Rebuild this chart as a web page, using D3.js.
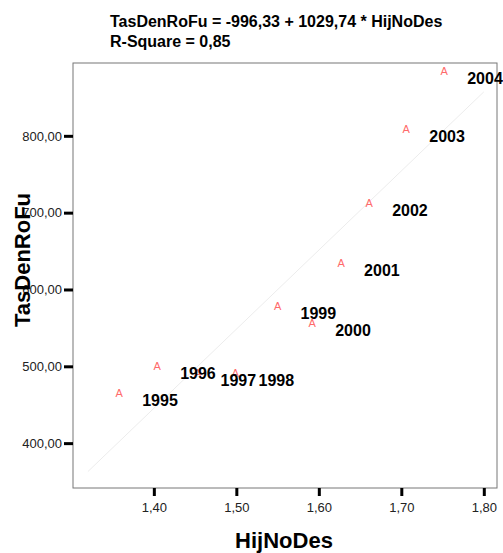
<html>
<head>
<script src="https://d3js.org/d3.v7.min.js"></script>
<style>
  body { margin: 0; background: #fff; }
  text { font-family: "Liberation Sans", Arial, sans-serif; }
</style>
</head>
<body>
<script>
// datos
var anios = ["1995","1996","1997","1998","1999","2000","2001","2002","2003","2004"];
var hijNoDes = [1.358, 1.404, 1.453, 1.499, 1.550, 1.592, 1.627, 1.661, 1.706, 1.752];
var tasDenRoFu = [465, 501, 491, 491, 578, 556, 634, 713, 809, 884];
var ticksX = [1.40, 1.50, 1.60, 1.70, 1.80];
var ticksY = [400, 500, 600, 700, 800];
var titulo = ["TasDenRoFu = -996,33 + 1029,74 * HijNoDes", "R-Square = 0,85"];
var recta = { a: -996.33, b: 1029.74, desde: 1.32, hasta: 1.80 };

var datos = anios.map(function(a, i) {
  return { anio: a, x: hijNoDes[i], y: tasDenRoFu[i] };
});

var W = 503, H = 553;
var izq = 73, der = 497, arriba = 63, abajo = 488;

var escalaX = d3.scaleLinear().domain([1.302, 1.816]).range([izq, der]);
var escalaY = d3.scaleLinear().domain([341.6, 894.8]).range([abajo, arriba]);

var coma = function(f) { return function(d) { return d3.format(f)(d).replace(".", ","); }; };

var svg = d3.select("body").append("svg")
  .attr("width", W).attr("height", H);

// titulo
svg.selectAll(".titulo").data(titulo).enter().append("text")
  .attr("class", "titulo")
  .attr("x", 110).attr("y", function(d, i) { return 27 + i * 20; })
  .attr("font-size", 16).attr("font-weight", "bold").attr("fill", "#000")
  .text(function(d) { return d; });

// marco
svg.append("rect")
  .attr("x", izq).attr("y", arriba)
  .attr("width", der - izq).attr("height", abajo - arriba)
  .attr("fill", "none").attr("stroke", "#777").attr("stroke-width", 1);

// ejes
var ejeX = svg.append("g").attr("transform", "translate(0," + abajo + ")")
  .call(d3.axisBottom(escalaX).tickValues(ticksX).tickFormat(coma(".2f")).tickSize(8).tickPadding(7));
var ejeY = svg.append("g").attr("transform", "translate(" + izq + ",0)")
  .call(d3.axisLeft(escalaY).tickValues(ticksY).tickFormat(coma(".2f")).tickSize(9).tickPadding(2));

[ejeX, ejeY].forEach(function(e) {
  e.select(".domain").remove();
  e.selectAll(".tick line").attr("stroke", "#000").attr("stroke-width", 3);
  e.selectAll(".tick text").attr("font-size", 13).attr("fill", "#222")
    .attr("font-family", "Liberation Sans, Arial, sans-serif");
});

// recta de regresion
svg.append("line")
  .attr("x1", escalaX(recta.desde)).attr("y1", escalaY(recta.a + recta.b * recta.desde))
  .attr("x2", escalaX(recta.hasta)).attr("y2", escalaY(recta.a + recta.b * recta.hasta))
  .attr("stroke", "#ececec").attr("stroke-width", 1);

// marcadores
svg.selectAll(".marca").data(datos).enter().append("text")
  .attr("class", "marca")
  .attr("x", function(d) { return escalaX(d.x); })
  .attr("y", function(d) { return escalaY(d.y) + 4; })
  .attr("text-anchor", "middle")
  .attr("font-size", 11).attr("fill", "#ff6a6a")
  .text("A");

// etiquetas de anio
svg.selectAll(".etiqueta").data(datos).enter().append("text")
  .attr("class", "etiqueta")
  .attr("x", function(d) { return escalaX(d.x) + 23; })
  .attr("y", function(d) { return escalaY(d.y) + 13; })
  .attr("font-size", 16).attr("font-weight", "bold").attr("fill", "#000")
  .text(function(d) { return d.anio; });

// titulos de ejes
svg.append("text")
  .attr("x", 284).attr("y", 548)
  .attr("text-anchor", "middle")
  .attr("font-size", 22).attr("font-weight", "bold")
  .text("HijNoDes");

svg.append("text")
  .attr("transform", "translate(30,260) rotate(-90)")
  .attr("text-anchor", "middle")
  .attr("font-size", 22).attr("font-weight", "bold")
  .text("TasDenRoFu");
</script>
</body>
</html>
